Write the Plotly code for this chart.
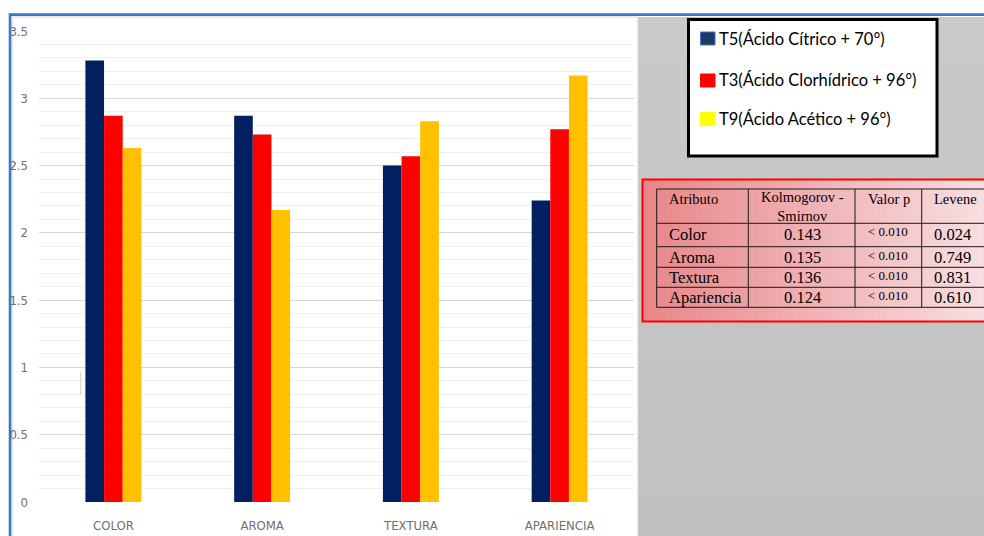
import plotly.graph_objects as go

# ---- chart data ----
categories = ["COLOR", "AROMA", "TEXTURA", "APARIENCIA"]
series_names = ["T5(Ácido Cítrico + 70°)", "T3(Ácido Clorhídrico + 96°)", "T9(Ácido Acético + 96°)"]
t5_values = [3.28, 2.87, 2.50, 2.24]
t3_values = [2.87, 2.73, 2.57, 2.77]
t9_values = [2.63, 2.17, 2.83, 3.17]
y_ticks = [0, 0.5, 1, 1.5, 2, 2.5, 3, 3.5]

# ---- normality / homogeneity table ----
table_header = ["Atributo", "Kolmogorov -<br>Smirnov", "Valor p", "Levene"]
table_attr = ["Color", "Aroma", "Textura", "Apariencia"]
table_ks = ["0.143", "0.135", "0.136", "0.124"]
table_p = ["< 0.010", "< 0.010", "< 0.010", "< 0.010"]
table_levene = ["0.024", "0.749", "0.831", "0.610"]

bar_colors = ["#002060", "#FF0000", "#FFC000"]
legend_fill = ["#203864", "#FF0000", "#FFFF00"]
legend_line = ["#4472C4", "#FF0000", "#FFFF00"]

W, H = 984, 536
L, R, T, B = 39, 634, 31, 502


def px(x):
    return (x - L) / (R - L)


def py(y):
    return (B - y) / (B - T)


def hex_mix(c1, c2, t):
    a = [int(c1[i:i + 2], 16) for i in (1, 3, 5)]
    b = [int(c2[i:i + 2], 16) for i in (1, 3, 5)]
    return "#%02x%02x%02x" % tuple(round(a[k] + (b[k] - a[k]) * t) for k in range(3))


fig = go.Figure()
for name, vals, col in zip(series_names, [t5_values, t3_values, t9_values], bar_colors):
    fig.add_trace(go.Bar(x=categories, y=vals, name=name, marker=dict(color=col, line=dict(width=0))))

shapes = []
annotations = []

# gray side panel (soft vertical gradient)
n = 12
for i in range(n):
    y0 = 17 + (536 - 17) * i / n
    y1 = 17 + (536 - 17) * (i + 1) / n + 1
    shapes.append(dict(type="rect", xref="paper", yref="paper", x0=px(638), x1=px(990),
                       y0=py(y0), y1=py(y1), fillcolor=hex_mix("#c9c9c9", "#c1c1c1", i / (n - 1)),
                       line=dict(width=0), layer="below"))

# chart frame
shapes.append(dict(type="rect", xref="paper", yref="paper", x0=px(12), x1=px(638), y0=py(545), y1=py(17),
                   line=dict(color="#d4d4d4", width=1), fillcolor="rgba(0,0,0,0)", layer="below"))
shapes.append(dict(type="line", xref="paper", yref="paper", x0=px(10), x1=px(990), y0=py(14.6), y1=py(14.6),
                   line=dict(color="#3b7bbf", width=2.6)))
shapes.append(dict(type="line", xref="paper", yref="paper", x0=px(10), x1=px(10), y0=py(13.3), y1=py(545),
                   line=dict(color="#3b7bbf", width=2.6)))
shapes.append(dict(type="line", xref="paper", yref="paper", x0=px(80.7), x1=px(80.7), y0=py(372), y1=py(394),
                   line=dict(color="#d0d0d0", width=1)))

# legend box
shapes.append(dict(type="rect", xref="paper", yref="paper", x0=px(688.5), x1=px(937), y0=py(19.5), y1=py(156),
                   fillcolor="white", line=dict(color="black", width=3)))
leg_y = [38.5, 80.5, 119]
for name, yc, fc, lc in zip(series_names, leg_y, legend_fill, legend_line):
    shapes.append(dict(type="rect", xref="paper", yref="paper", x0=px(700.5), x1=px(715), y0=py(yc - 6.5),
                       y1=py(yc + 6.5), fillcolor=fc, line=dict(color=lc, width=1)))
    annotations.append(dict(xref="paper", yref="paper", x=px(716.5), y=py(yc), text=name, showarrow=False,
                            xanchor="left", yanchor="middle",
                            font=dict(family="Lato, 'Open Sans', sans-serif", size=16.5, color="black")))

# statistics table: red frame with horizontal gradient
tx0, tx1 = 643, 990
n = 60
for i in range(n):
    x0 = tx0 + (tx1 - tx0) * i / n
    x1 = tx0 + (tx1 - tx0) * (i + 1) / n + 0.8
    shapes.append(dict(type="rect", xref="paper", yref="paper", x0=px(x0), x1=px(x1), y0=py(179.5), y1=py(321),
                       fillcolor=hex_mix("#e8878a", "#f8dfe1", i / (n - 1)), line=dict(width=0)))
shapes.append(dict(type="rect", xref="paper", yref="paper", x0=px(642.5), x1=px(995), y0=py(179.5), y1=py(321.5),
                   fillcolor="rgba(0,0,0,0)", line=dict(color="#ff0000", width=2)))
col_x = [656.7, 748.3, 855, 921.7]
row_y = [189, 223.3, 246.7, 267.3, 287.3, 307.3]
for cx in col_x:
    shapes.append(dict(type="line", xref="paper", yref="paper", x0=px(cx), x1=px(cx), y0=py(row_y[0]),
                       y1=py(row_y[-1]), line=dict(color="#1a1a1a", width=1)))
for ry in row_y:
    shapes.append(dict(type="line", xref="paper", yref="paper", x0=px(col_x[0]), x1=px(995), y0=py(ry),
                       y1=py(ry), line=dict(color="#1a1a1a", width=1)))

serif = "'Liberation Serif', 'Times New Roman', serif"
head_font = dict(family=serif, size=14.5, color="black")
body_font = dict(family=serif, size=16.5, color="black")
p_font = dict(family=serif, size=13, color="black")

annotations.append(dict(xref="paper", yref="paper", x=px(666.5), y=py(198.5), text=table_header[0], showarrow=False,
                        xanchor="left", yanchor="middle", font=head_font))
annotations.append(dict(xref="paper", yref="paper", x=px(802), y=py(206.5), text=table_header[1], showarrow=False,
                        xanchor="center", yanchor="middle", font=head_font))
annotations.append(dict(xref="paper", yref="paper", x=px(888.5), y=py(198.5), text=table_header[2], showarrow=False,
                        xanchor="center", yanchor="middle", font=head_font))
annotations.append(dict(xref="paper", yref="paper", x=px(931.5), y=py(198.5), text=table_header[3], showarrow=False,
                        xanchor="left", yanchor="middle", font=head_font))

body_y = [234, 257.5, 277.5, 297.5]
for a, k, p, lv, yc in zip(table_attr, table_ks, table_p, table_levene, body_y):
    annotations.append(dict(xref="paper", yref="paper", x=px(666.5), y=py(yc), text=a, showarrow=False,
                            xanchor="left", yanchor="middle", font=body_font))
    annotations.append(dict(xref="paper", yref="paper", x=px(802), y=py(yc), text=k, showarrow=False,
                            xanchor="center", yanchor="middle", font=body_font))
    annotations.append(dict(xref="paper", yref="paper", x=px(866), y=py(yc - 2.5), text=p, showarrow=False,
                            xanchor="left", yanchor="middle", font=p_font))
    annotations.append(dict(xref="paper", yref="paper", x=px(931.5), y=py(yc), text=lv, showarrow=False,
                            xanchor="left", yanchor="middle", font=body_font))

axis_font = dict(family="'Liberation Sans Narrow', 'Arial Narrow', 'DejaVu Sans Condensed', sans-serif",
                 size=13, color="#6f6f6f")

fig.update_layout(
    width=W, height=H,
    margin=dict(l=L, r=W - R, t=T, b=H - B, pad=0, autoexpand=False),
    paper_bgcolor="white", plot_bgcolor="white",
    barmode="group", bargap=0.624, bargroupgap=0,
    showlegend=False,
    shapes=shapes, annotations=annotations,
    xaxis=dict(showgrid=False, showline=False, zeroline=False, ticks="", tickfont=axis_font,
               ticklabelstandoff=14, automargin=False, fixedrange=True),
    yaxis=dict(range=[0, 3.5], tickvals=y_ticks, ticktext=[f"{v:g}" for v in y_ticks], showgrid=True,
               gridcolor="#d6d6d6", gridwidth=1.4, zeroline=False, showline=False, ticks="",
               tickfont=axis_font, ticklabelstandoff=10, automargin=False,
               minor=dict(dtick=0.1, tick0=0, showgrid=True, gridcolor="#efefef", gridwidth=1.2)),
)

fig.write_html("out.html")
